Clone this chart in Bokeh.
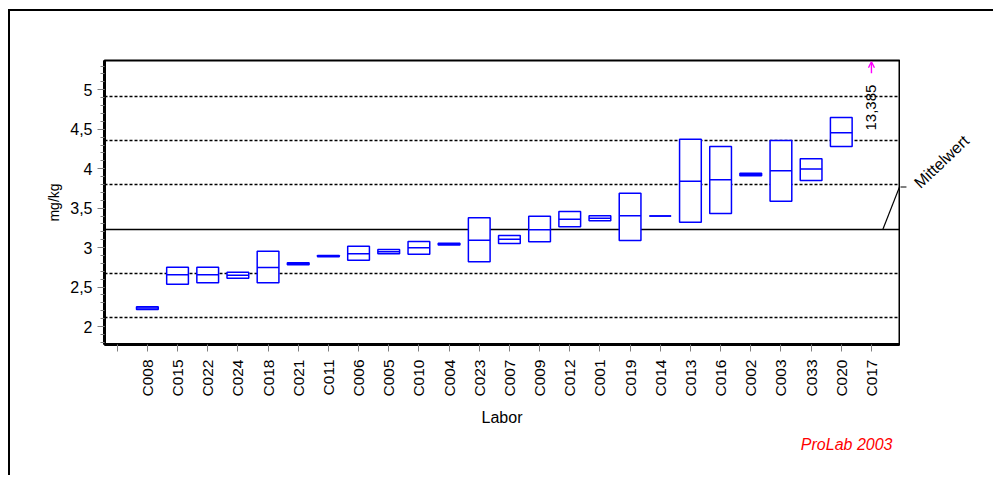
import math
from bokeh.plotting import figure
from bokeh.layouts import row
from bokeh.models import (Range1d, FixedTicker, CustomJSTickFormatter, Label,
                          Arrow, OpenHead, ColumnDataSource, Title)
from bokeh.embed import file_html
from bokeh.resources import INLINE

# ---------------- data ----------------
labs = ["C008", "C015", "C022", "C024", "C018", "C021", "C011", "C006", "C005",
        "C010", "C004", "C023", "C007", "C009", "C012", "C001", "C019", "C014",
        "C013", "C016", "C002", "C003", "C033", "C020", "C017"]
box_low = [2.216, 2.536, 2.554, 2.612, 2.554, 2.783, 2.884, 2.840, 2.921,
           2.916, 3.032, 2.820, 3.052, 3.073, 3.264, 3.340, 3.090, 3.400,
           3.322, 3.432, 3.912, 3.588, 3.850, 4.281, 13.385]
box_med = [2.233, 2.655, 2.655, 2.650, 2.748, 2.795, 2.891, 2.921, 2.948,
           2.997, 3.043, 3.094, 3.107, 3.226, 3.360, 3.373, 3.403, 3.400,
           3.842, 3.859, 3.927, 3.974, 3.995, 4.455, 13.385]
box_high = [2.250, 2.752, 2.752, 2.688, 2.954, 2.807, 2.899, 3.018, 2.976,
            3.077, 3.055, 3.378, 3.153, 3.398, 3.458, 3.403, 3.690, 3.400,
            4.374, 4.281, 3.942, 4.357, 4.125, 4.649, 13.385]
mean_value = 3.232
limit_lines = [4.911, 4.357, 3.800, 2.670, 2.118]
y_ticks = [2, 2.5, 3, 3.5, 4, 4.5, 5]
y_minor = [1.8, 1.9, 2.0, 2.1, 2.2, 2.3, 2.4, 2.5, 2.6, 2.7, 2.8, 2.9, 3.0,
           3.1, 3.2, 3.3, 3.4, 3.5, 3.6, 3.7, 3.8, 3.9, 4.0, 4.1, 4.2, 4.3,
           4.4, 4.5, 4.6, 4.7, 4.8, 4.9, 5.0, 5.1, 5.2, 5.3]

FONT = "Liberation Sans"
BLUE = "#0000ff"
H = 475

positions = list(range(1, len(labs) + 1))
x_range = Range1d(-0.421, 25.93)
y_range = Range1d(1.772, 5.371)

p = figure(width=900, height=H, x_range=x_range, y_range=y_range,
           output_backend="svg", toolbar_location=None,
           min_border_left=104, min_border_right=1,
           min_border_top=60, min_border_bottom=131)
p.xgrid.visible = False
p.ygrid.visible = False
p.outline_line_color = "black"
p.outline_line_width = 2
p.outline_line_alpha = 1.0
p.background_fill_color = "white"
p.border_fill_color = None

# reference lines
p.hspan(y=limit_lines, line_color="black", line_dash="3 2", line_width=1.3)
p.hspan(y=[mean_value], line_color="black", line_width=1.3)

# boxes (only those inside the visible range)
vis = [i for i in range(len(labs)) if box_high[i] <= y_range.end]
src = ColumnDataSource(dict(
    x=[positions[i] for i in vis],
    low=[box_low[i] for i in vis],
    high=[box_high[i] for i in vis],
    med=[box_med[i] for i in vis],
))
p.vbar(x="x", width=0.72, bottom="low", top="high", fill_color="white",
       line_color=BLUE, line_width=1.5, source=src)
p.vbar(x="x", width=0.72, bottom="med", top="med", fill_alpha=0,
       line_color=BLUE, line_width=1.5, source=src)

# off-scale values: arrow + value label
for i in range(len(labs)):
    if box_high[i] > y_range.end:
        p.add_layout(Arrow(x_start=positions[i], y_start=5.21,
                           x_end=positions[i], y_end=5.355,
                           line_color="#ff00ff", line_width=1.4,
                           end=OpenHead(size=6, line_color="#ff00ff", line_width=1.4)))
        txt = f"{box_med[i]:.3f}".replace(".", ",")
        p.add_layout(Label(x=positions[i], y=4.484, text=txt, angle=math.pi / 2,
                           text_align="left", text_baseline="middle",
                           text_font=FONT, text_font_size="15px",
                           text_color="black"))

# Mittelwert connector (inside the frame part)
p.line(x=[25.38, 25.93], y=[mean_value, 3.768], line_color="black", line_width=1.2)

# ProLab footer
p.add_layout(Title(text="ProLab 2003", align="right", offset=7, standoff=10,
                   text_font=FONT, text_font_size="16px",
                   text_font_style="italic", text_color="#ff0000"), "below")

# x axis
xa = p.xaxis[0]
xa.ticker = FixedTicker(ticks=[0] + positions)
overrides = {0: ""}
for k, lab in zip(positions, labs):
    overrides[k] = lab
xa.major_label_overrides = overrides
xa.major_label_orientation = math.pi / 2
xa.axis_label = "Labor"
xa.axis_line_color = "black"
xa.axis_line_width = 3
xa.major_tick_line_color = "#808080"
xa.major_tick_out = 7
xa.major_tick_in = 0
xa.minor_tick_line_color = None
xa.major_label_text_font = FONT
xa.major_label_text_font_size = "15.5px"
xa.major_label_text_color = "black"
xa.major_label_standoff = 8
xa.axis_label_text_font = FONT
xa.axis_label_text_font_size = "16px"
xa.axis_label_text_font_style = "normal"
xa.axis_label_text_color = "black"
xa.axis_label_standoff = 9

# y axis
ya = p.yaxis[0]
ya.ticker = FixedTicker(ticks=y_ticks, minor_ticks=y_minor)
ya.formatter = CustomJSTickFormatter(code="return String(tick).replace('.', ',');")
ya.axis_label = "mg/kg"
ya.axis_line_color = "black"
ya.axis_line_width = 3
ya.major_tick_line_color = "#808080"
ya.major_tick_out = 7
ya.major_tick_in = 0
ya.minor_tick_line_color = "#808080"
ya.minor_tick_out = 4
ya.minor_tick_in = 0
ya.major_label_text_font = FONT
ya.major_label_text_font_size = "16px"
ya.major_label_text_color = "black"
ya.major_label_standoff = 5
ya.axis_label_text_font = FONT
ya.axis_label_text_font_size = "14px"
ya.axis_label_text_font_style = "normal"
ya.axis_label_text_color = "black"
ya.axis_label_standoff = 5

# right-hand panel with the "Mittelwert" annotation
p2 = figure(width=93, height=H, x_range=Range1d(25.963, 29.046), y_range=y_range,
            output_backend="svg", toolbar_location=None,
            min_border_left=0, min_border_right=0,
            min_border_top=60, min_border_bottom=131)
p2.axis.visible = False
p2.grid.visible = False
p2.outline_line_color = None
p2.background_fill_color = None
p2.border_fill_color = None
p2.line(x=[25.91, 26.16], y=[3.768, 3.768], line_color="black", line_width=1.2)
p2.add_layout(Label(x=26.50, y=3.79, text="Mittelwert", angle=0.76,
                    text_align="left", text_baseline="middle",
                    text_font=FONT, text_font_size="16px", text_color="black"))

layout = row(p, p2, spacing=0,
             styles={"box-shadow": "inset 8px 9px 0 0 white, inset 10px 11px 0 0 black",
                     "background-color": "white"})

open("out.html", "w").write(file_html(layout, INLINE))
